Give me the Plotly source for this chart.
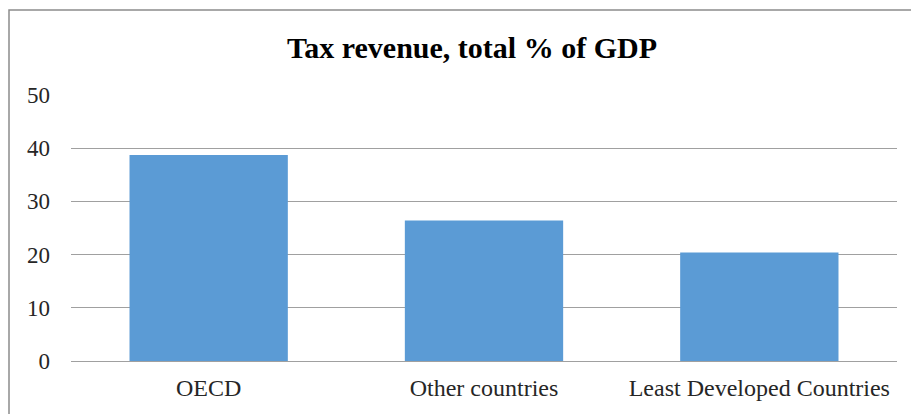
import plotly.graph_objects as go

categories = ["OECD", "Other countries", "Least Developed Countries"]
values = [38.7, 26.4, 20.4]
y_ticks = [0, 10, 20, 30, 40, 50]

W, H = 911, 414
fig = go.Figure(go.Bar(x=categories, y=values, marker=dict(color="#5B9BD5", line=dict(width=0)),
                       width=0.575))

fig.update_layout(
    width=W, height=H,
    margin=dict(l=71, r=14, t=95, b=53),
    paper_bgcolor="white", plot_bgcolor="white",
    font=dict(family="Liberation Serif", size=23, color="#262626"),
    showlegend=False,
    title=dict(text="<b>Tax revenue, total % of GDP</b>", x=472 / W, xanchor="center",
               y=1 - 47 / H, yanchor="middle",
               font=dict(family="Liberation Serif", size=30, color="#000000")),
    shapes=[dict(type="rect", xref="paper", yref="paper",
                 x0=-62 / 826, x1=1.2, y0=-0.5, y1=1 + 85 / 266,
                 line=dict(color="#8c8c8c", width=1.5), fillcolor="rgba(0,0,0,0)", layer="below")],
)
fig.update_yaxes(range=[0, 50], tickvals=y_ticks, showgrid=True, gridcolor="#a0a0a0", gridwidth=1,
                 zeroline=False, showline=False, ticks="", ticklabelstandoff=20)
fig.update_xaxes(showline=True, linecolor="#a0a0a0", linewidth=1, ticks="", ticklabelstandoff=5,
                 tickfont=dict(size=24))

fig.write_html("out.html")
